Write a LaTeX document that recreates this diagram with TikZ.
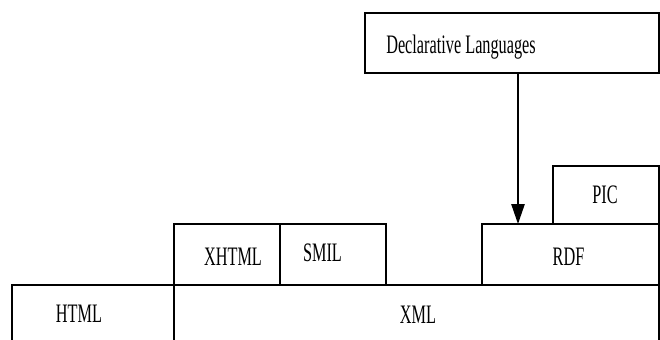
\documentclass[tikz,border=0pt]{standalone}
\usepackage{fontspec}
\setmainfont[FakeStretch=0.61]{Liberation Serif}
\usepackage{tikz}
\usetikzlibrary{arrows.meta}

\begin{document}
\begin{tikzpicture}[x=0.75pt,y=0.75pt,yscale=-1,xscale=1,
  layer/.style={draw,line width=1.2pt,inner sep=0pt,outer sep=0pt,rectangle},
  lbl/.style={inner sep=0pt,anchor=base,font=\fontsize{20}{23}\selectfont}]
\useasboundingbox (0,0) rectangle (660,339);
\clip (0,0) rectangle (660,339);

%Boxes
\node[layer,minimum width=121.5pt,minimum height=45pt] (html) at (93,315) {};
\node[layer,minimum width=363.75pt,minimum height=45pt] (xml) at (416.5,315) {};
\node[layer,minimum width=79.5pt,minimum height=45.75pt] (xhtml) at (227,254.5) {};
\node[layer,minimum width=79.5pt,minimum height=45.75pt] (smil) at (333,254.5) {};
\node[layer,minimum width=132.75pt,minimum height=45.75pt] (rdf) at (570.5,254.5) {};
\node[layer,minimum width=79.5pt,minimum height=43.5pt] (pic) at (606,195) {};
\node[layer,minimum width=220.5pt,minimum height=45pt] (decl) at (512,43) {};

% Text Node
\node[lbl] (htmltxt) at (79,322) {HTML};
\node[lbl] (xmltxt) at (418,323) {XML};
\node[lbl] (xhtmltxt) at (233,265) {XHTML};
\node[lbl] (smiltxt) at (322.5,261) {SMIL};
\node[lbl] (rdftxt) at (568.5,265) {RDF};
\node[lbl] (pictxt) at (605,203) {PIC};
\node[lbl,anchor=base west] (decltxt) at (386,53) {Declarative Languages};

%Arrow
\coordinate (arrx) at (518,0);
\draw[line width=1.2pt,-{Triangle[length=15pt,width=10pt]}] (decl.south -| arrx) -- (rdf.north -| arrx);

\end{tikzpicture}
\end{document}
